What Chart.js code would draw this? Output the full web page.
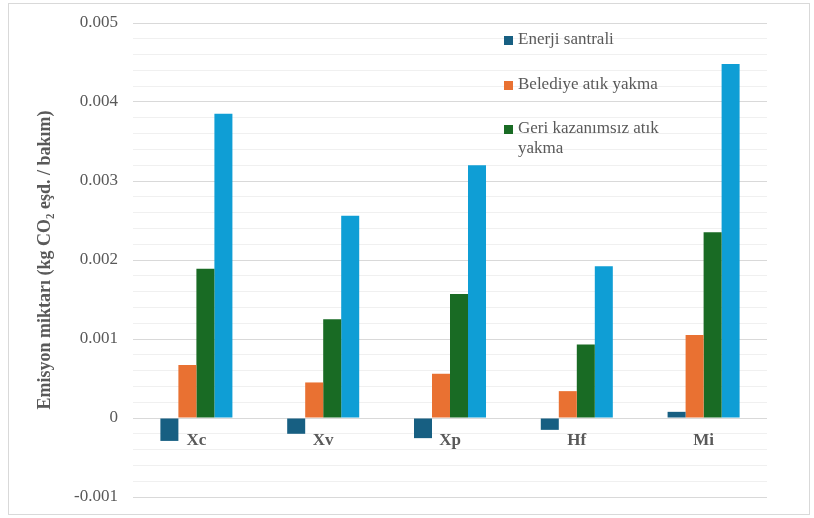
<!DOCTYPE html>
<html>
<head>
<meta charset="utf-8">
<script src="https://cdn.jsdelivr.net/npm/chart.js@4.4.0/dist/chart.umd.min.js"></script>
<style>
  html, body { margin: 0; padding: 0; background: #ffffff; }
  #wrap { width: 814px; height: 518px; position: relative; }
</style>
</head>
<body>
<div id="wrap"><canvas id="emisyon_chart"></canvas></div>
<script>
// categories and series
let categories = ["Xc", "Xv", "Xp", "Hf", "Mi"];
let seriesNames = ["Enerji santrali", "Belediye atık yakma", "Geri kazanımsız atık yakma", ""];
let enerjiSantrali = [-0.00029, -0.0002, -0.000255, -0.00015, 0.000078];
let belediyeYakma = [0.00067, 0.00045, 0.00056, 0.00034, 0.00105];
let geriKazanimsiz = [0.00189, 0.00125, 0.00157, 0.00093, 0.00235];
let dorduncuSeri = [0.00385, 0.00256, 0.0032, 0.00192, 0.00448];
let seriesColors = ["#175f82", "#e97132", "#196b24", "#0f9ed5"];
let yMin = -0.001, yMax = 0.005, yMinorStep = 0.0002;

let textGray = "#595959";
let serif = "'Liberation Serif', 'Times New Roman', serif";

function isMajor(v){
    return Math.abs(v * 1000 - Math.round(v * 1000)) < 1e-6;
}

// outer frame + white background
const framePlugin = {
    id: "frame",
    beforeDraw(chart){
        let ctx = chart.ctx;
        ctx.save();
        ctx.fillStyle = "#ffffff";
        ctx.fillRect(0, 0, chart.width, chart.height);
        ctx.strokeStyle = "#d9d9d9";
        ctx.lineWidth = 1;
        ctx.strokeRect(8.5, 3.5, 801, 511);
        ctx.restore();
    }
};

// legend inside the plot, top right, only the first three series
const innerLegend = {
    id: "innerLegend",
    afterDraw(chart){
        let ctx = chart.ctx;
        ctx.save();
        ctx.font = "17px " + serif;
        ctx.textBaseline = "middle";
        let x = 504, rowY = [40, 85, 129];
        for (let i = 0; i < 3; i++){
            ctx.fillStyle = seriesColors[i];
            ctx.fillRect(x, rowY[i] - 4, 9, 9);
            ctx.fillStyle = textGray;
            // wrap long labels
            let words = seriesNames[i].split(" ");
            let line = "", lines = [];
            words.forEach(w => {
                let test = line ? line + " " + w : w;
                if (ctx.measureText(test).width > 160 && line){
                    lines.push(line);
                    line = w;
                } else {
                    line = test;
                }
            });
            lines.push(line);
            lines.forEach((l, k) => ctx.fillText(l, x + 14, rowY[i] + k * 20));
        }
        ctx.restore();
    }
};

let datasets = [enerjiSantrali, belediyeYakma, geriKazanimsiz, dorduncuSeri].map((d, i) => ({
    label: seriesNames[i],
    data: d,
    backgroundColor: seriesColors[i],
    borderWidth: 0,
    categoryPercentage: 0.568,
    barPercentage: 1.0
}));

new Chart("emisyon_chart", {
    type: "bar",
    data: { labels: categories, datasets: datasets },
    options: {
        responsive: true,
        maintainAspectRatio: false,
        animation: false,
        layout: { padding: { top: 23, right: 47, bottom: 21, left: 0 } },
        plugins: {
            legend: { display: false },
            tooltip: { enabled: false }
        },
        scales: {
            x: {
                position: { y: 0 },
                grid: { display: false, drawTicks: false },
                border: { display: false },
                ticks: {
                    color: textGray,
                    font: { family: serif, size: 17, weight: "bold" },
                    padding: 12
                },
                afterFit(scale){
                    // the axis sits on the zero line, so it takes no room at the bottom
                    scale.height = 0;
                    scale.paddingTop = 0;
                    scale.paddingBottom = 0;
                    scale.paddingLeft = 0;
                    scale.paddingRight = 0;
                }
            },
            y: {
                min: yMin,
                max: yMax,
                grid: {
                    drawTicks: false,
                    color: ctx => isMajor(ctx.tick.value) ? "#d9d9d9" : "#f0f0f0",
                    lineWidth: 1
                },
                border: { display: false },
                ticks: {
                    stepSize: yMinorStep,
                    autoSkip: false,
                    color: textGray,
                    font: { family: serif, size: 17 },
                    padding: 15,
                    callback: function(v){
                        if (!isMajor(v)) return "";
                        if (Math.abs(v) < 1e-9) return "0";
                        return v.toFixed(3);
                    }
                },
                title: {
                    display: true,
                    text: "Emisyon miktarı (kg CO₂ eşd. / bakım)",
                    color: textGray,
                    font: { family: serif, size: 18, weight: "bold" },
                    padding: { top: 35, bottom: 0 }
                },
                afterFit(scale){
                    scale.width = 133;
                    // label overhang is covered by the layout padding
                    scale.paddingTop = 0;
                    scale.paddingBottom = 0;
                }
            }
        }
    },
    plugins: [framePlugin, innerLegend]
});
</script>
</body>
</html>
